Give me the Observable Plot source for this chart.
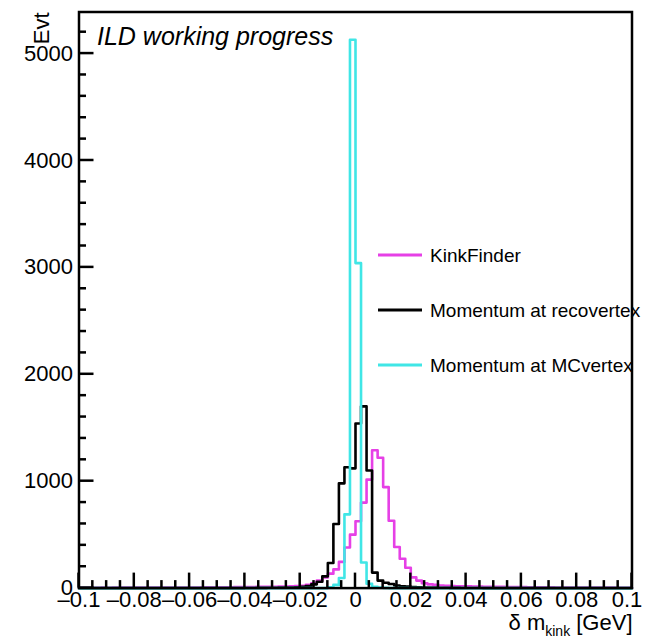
<!DOCTYPE html>
<html><head><meta charset="utf-8">
<script src="https://cdn.jsdelivr.net/npm/d3@7"></script>
<script src="https://cdn.jsdelivr.net/npm/@observablehq/plot@0.6"></script>
<style>
html,body{margin:0;padding:0;background:#fff;}
#chart{position:relative;width:645px;height:638px;}
svg{font-family:"Liberation Sans",Arial,Helvetica,sans-serif;}
</style></head><body><div id="chart"></div>
<script>
// Histogram binning: 100 bins from -0.1 to 0.1
const binLow = -0.1;
const binWidth = 0.002;

// KinkFinder (magenta)
const kinkFinder = [
  3,3,3,3,4,3,4,4,4,4,
  4,5,4,5,5,5,5,6,5,6,
  6,6,7,7,7,8,8,8,9,9,
  10,10,11,12,12,13,14,15,17,19,
  22,30,45,70,100,135,175,245,380,500,
  625,800,1015,1290,1220,945,630,385,275,190,
  100,70,45,35,30,25,22,20,18,17,
  16,15,14,13,12,12,11,10,10,9,
  9,8,8,7,7,7,6,6,6,5,
  5,5,5,4,4,4,4,3,3,3
];
// Momentum at recovertex (black)
const recoVertex = [
  0,0,0,0,0,0,0,0,0,0,
  0,0,0,0,0,0,0,0,0,0,
  0,0,0,0,0,0,0,0,0,0,
  1,1,2,2,3,3,4,5,6,8,
  12,20,35,60,110,235,600,980,1130,1120,
  1540,1700,1100,145,70,50,38,25,18,14,
  10,8,6,5,4,3,3,2,2,1,
  1,1,1,0,0,0,0,0,0,0,
  0,0,0,0,0,0,0,0,0,0,
  0,0,0,0,0,0,0,0,0,0
];
// Momentum at MCvertex (cyan)
const mcVertex = [
  0,0,0,0,0,0,0,0,0,0,
  0,0,0,0,0,0,0,0,0,0,
  0,0,0,0,0,0,0,0,0,0,
  0,0,0,0,0,0,0,0,0,0,
  0,0,0,0,0,8,30,95,690,5130,
  3040,240,40,12,5,2,0,0,0,0,
  0,0,0,0,0,0,0,0,0,0,
  0,0,0,0,0,0,0,0,0,0,
  0,0,0,0,0,0,0,0,0,0,
  0,0,0,0,0,0,0,0,0,0
];

const seriesNames = ["KinkFinder", "Momentum at recovertex", "Momentum at MCvertex"];
const seriesColors = ["#e640e6", "#000000", "#40e6e6"];
const seriesValues = [kinkFinder, recoVertex, mcVertex];

const xTickValues = [-0.1, -0.08, -0.06, -0.04, -0.02, 0, 0.02, 0.04, 0.06, 0.08, 0.1];
const yTickValues = [0, 1000, 2000, 3000, 4000, 5000];
const yMax = 5389;
const xDomain = [-0.1, 0.1];

const titleText = "ILD working progress";
const yLabel = "Evt";

function stepPoints(values, name) {
  const pts = values.map((v, i) => ({x: binLow + i * binWidth, y: v, s: name}));
  pts.push({x: binLow + values.length * binWidth, y: values[values.length - 1], s: name});
  return pts;
}

const fmtX = d => d < 0 ? "\u2013" + String(Math.abs(d)) : String(d);

const W = 645, H = 638;
const lineMarks = seriesValues.map((vals, k) =>
  Plot.line(stepPoints(vals, seriesNames[k]), {x: "x", y: "y", curve: "step-after", stroke: seriesColors[k], strokeWidth: 2.6})
);

const plot = Plot.plot({
  width: W, height: H,
  marginLeft: 78.5, marginRight: 13.5, marginTop: 11.5, marginBottom: 50.4,
  x: {domain: xDomain, label: null},
  y: {domain: [0, yMax], label: null},
  style: {fontFamily: '"Liberation Sans", Arial, Helvetica, sans-serif', fontSize: "22px", color: "#000", background: "#fff"},
  marks: [
    ...lineMarks,
    Plot.axisX(xTickValues, {tickSize: 0, tickPadding: 3, tickFormat: fmtX, fontSize: 22, label: null}),
    Plot.axisY(yTickValues, {tickSize: 0, tickPadding: 6, tickFormat: d => String(d), fontSize: 22, label: null}),
    Plot.frame({stroke: "#000", strokeWidth: 2.5})
  ]
});
document.getElementById("chart").appendChild(plot);

const sx = plot.scale("x"), sy = plot.scale("y");
const svg = d3.select(plot);
const x0 = sx.range[0], x1 = sx.range[1];
const yB = sy.range[0], yT = sy.range[1];
const g = svg.append("g").attr("stroke", "#000").attr("stroke-width", 2.5);

// keep the last x tick label inside the picture
const xLabels = svg.selectAll('g[aria-label="x-axis tick label"] text').nodes();
if (xLabels.length) {
  const last = xLabels[xLabels.length - 1];
  last.setAttribute("dx", "-5");
}

// x ticks: major and minor
const xMinor = d3.ticks(xDomain[0], xDomain[1], 40);
xMinor.forEach(v => {
  const isMajor = xTickValues.some(t => Math.abs(t - v) < 1e-9);
  const px = sx.apply(v);
  g.append("line").attr("x1", px).attr("x2", px).attr("y1", yB).attr("y2", yB - (isMajor ? 15 : 7.5));
});
// y ticks
const yMinor = d3.range(0, yMax, 200);
yMinor.forEach(v => {
  const isMajor = yTickValues.includes(v);
  const py = sy.apply(v);
  g.append("line").attr("x1", x0).attr("x2", x0 + (isMajor ? 15 : 7.5)).attr("y1", py).attr("y2", py);
});

// Title
svg.append("text").attr("x", 97).attr("y", 45).attr("font-size", 25).attr("font-style", "italic")
  .attr("text-anchor", "start").attr("fill", "#000").text(titleText);

// Y label
svg.append("text").attr("transform", `translate(49,${yT + 1}) rotate(-90)`).attr("text-anchor", "end")
  .attr("font-size", 22).attr("fill", "#000").text(yLabel);

// X label with subscript
const xl = svg.append("text").attr("x", x1 + 1).attr("y", 630).attr("text-anchor", "end").attr("font-size", 22).attr("fill", "#000");
xl.append("tspan").text("\u03b4 m");
xl.append("tspan").attr("font-size", 14).attr("dy", 6).text("kink");
xl.append("tspan").attr("dy", -6).text(" [GeV]");

// Legend
const legY = [255, 310, 365];
const leg = svg.append("g");
seriesNames.forEach((name, k) => {
  leg.append("line").attr("x1", 378).attr("x2", 422).attr("y1", legY[k]).attr("y2", legY[k])
    .attr("stroke", seriesColors[k]).attr("stroke-width", 3);
  leg.append("text").attr("x", 430).attr("y", legY[k]).attr("dy", "0.35em").attr("font-size", 19)
    .attr("text-anchor", "start").attr("fill", "#000").text(name);
});
</script></body></html>
